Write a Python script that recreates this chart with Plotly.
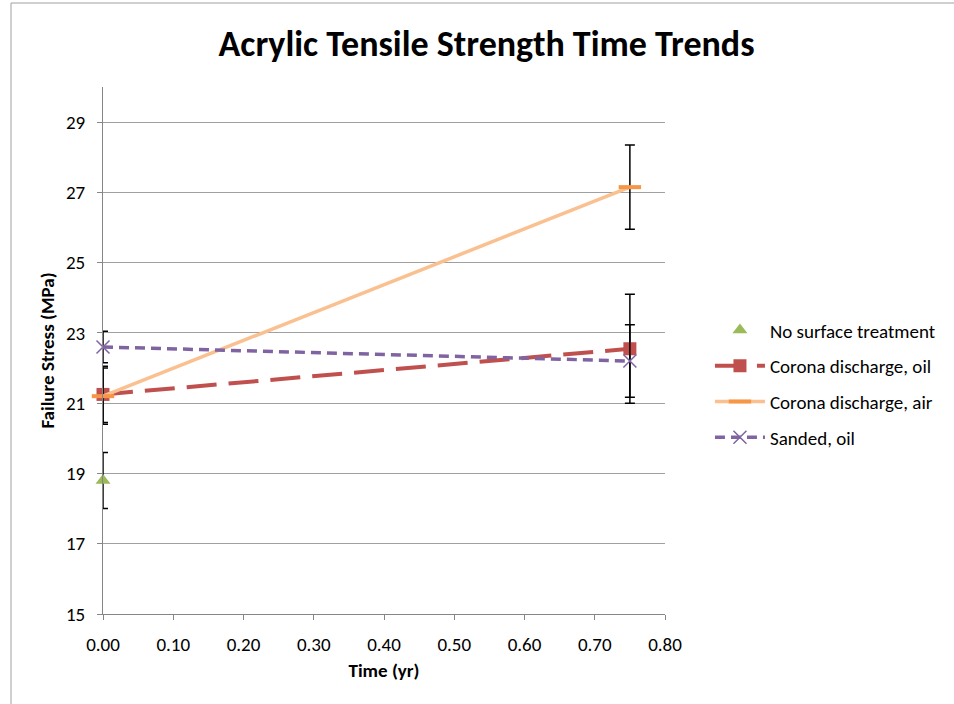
import plotly.graph_objects as go

time = [0.0, 0.75]
no_surface_time = [0.0]
no_surface = [18.8]
no_surface_err = [0.8]
corona_oil = [21.25, 22.55]
corona_oil_err = [0.8, 1.55]
corona_air = [21.2, 27.15]
corona_air_err = [0.8, 1.2]
sanded_oil = [22.6, 22.2]
sanded_oil_err = [0.45, 1.03]

FONT = "Carlito, Lato, sans-serif"

def err(vals):
    return dict(type="data", array=vals, visible=True, color="black", thickness=1.5, width=5)

fig = go.Figure()
fig.add_trace(go.Scatter(
    x=no_surface_time, y=no_surface, mode="markers", name="No surface treatment",
    marker=dict(symbol="triangle-up", size=13, color="#9BBB59"), cliponaxis=False,
    error_y=err(no_surface_err), legendgroup="a"))
fig.add_trace(go.Scatter(
    x=time, y=corona_oil, mode="lines+markers", name="Corona discharge, oil",
    line=dict(color="#C0504D", width=4, dash="30px,12px"),
    marker=dict(symbol="square", size=13, color="#C0504D"), cliponaxis=False,
    error_y=err(corona_oil_err), legendgroup="b"))
fig.add_trace(go.Scatter(
    x=time, y=corona_air, mode="lines+markers", name="Corona discharge, air",
    line=dict(color="#FAC090", width=3.5),
    marker=dict(symbol="line-ew", size=16, color="#F79646", line=dict(color="#F79646", width=4)),
    cliponaxis=False,
    error_y=err(corona_air_err), legendgroup="c"))
fig.add_trace(go.Scatter(
    x=time, y=sanded_oil, mode="lines+markers", name="Sanded, oil",
    line=dict(color="#8064A2", width=3.5, dash="10px,6px"),
    marker=dict(symbol="x-thin", size=13, color="#8064A2", line=dict(color="#8064A2", width=1.5)),
    cliponaxis=False,
    error_y=err(sanded_oil_err), legendgroup="d"))

fig.update_layout(
    width=954, height=704,
    margin=dict(l=103, r=289, t=87, b=90),
    paper_bgcolor="white", plot_bgcolor="white",
    font=dict(family=FONT, size=19, color="black"),
    title=dict(text="<b>Acrylic Tensile Strength Time Trends</b>", x=0.51, xanchor="center",
               y=1 - 43/704, yanchor="middle", font=dict(size=36, family=FONT)),
    xaxis=dict(range=[0, 0.8], tickvals=[0, 0.1, 0.2, 0.3, 0.4, 0.5, 0.6, 0.7, 0.8],
               tickformat=".2f", showgrid=False, zeroline=False,
               showline=True, linecolor="#868686", linewidth=1,
               ticks="outside", ticklen=5, tickcolor="#868686", ticklabelstandoff=8,
               tickfont=dict(size=19),
               title=dict(text="<b>Time (yr)</b>", font=dict(size=19), standoff=8)),
    yaxis=dict(range=[15, 30], tickvals=[15, 17, 19, 21, 23, 25, 27, 29],
               showgrid=True, gridcolor="#A0A0A0", gridwidth=1, zeroline=False,
               showline=True, linecolor="#868686", linewidth=1,
               ticks="outside", ticklen=5, tickcolor="#868686", ticklabelstandoff=8,
               tickfont=dict(size=19),
               title=dict(text="<b>Failure Stress (MPa)</b>", font=dict(size=19), standoff=6)),
    legend=dict(x=1.080, y=0.5745, xanchor="left", yanchor="top", font=dict(size=19),
                itemwidth=50, tracegroupgap=8, bgcolor="rgba(0,0,0,0)"),
)

# chart border (left and top edges visible)
fig.add_shape(type="line", xref="paper", yref="paper",
              x0=-92/562, x1=-92/562, y0=-1, y1=(614-3)/527,
              line=dict(color="#A0A0A0", width=1))
fig.add_shape(type="line", xref="paper", yref="paper",
              x0=-92/562, x1=2, y0=(614-3)/527, y1=(614-3)/527,
              line=dict(color="#A0A0A0", width=1))

fig.write_html("out.html")
